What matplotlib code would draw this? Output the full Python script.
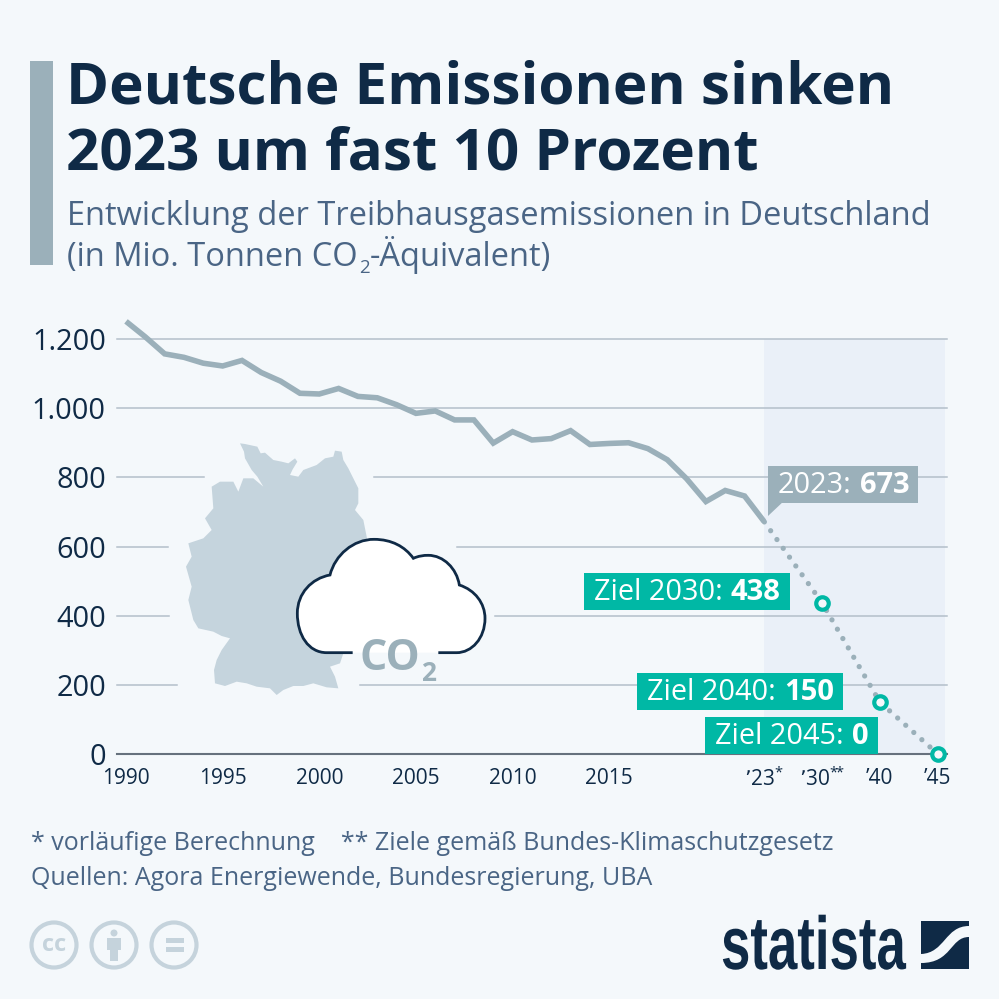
import matplotlib
matplotlib.use("Agg")
import matplotlib.pyplot as plt
from matplotlib.patches import Rectangle, Circle, Polygon, PathPatch
from matplotlib.patheffects import AbstractPathEffect
from matplotlib.path import Path
from matplotlib.transforms import Affine2D, blended_transform_factory

# Emissions in Mio. t CO2 equivalent
YEARS = list(range(1990, 2024))
EMISSIONS = [1251, 1206, 1157, 1147, 1130, 1122, 1138, 1103, 1078, 1043,
             1041, 1057, 1034, 1030, 1010, 985, 992, 966, 966, 899,
             932, 908, 912, 935, 895, 898, 900, 883, 851, 796,
             730, 762, 746, 673]

# the axis is categorical, one slot per year up to 2023, then every third slot
TARGET_YEARS = [2023, 2030, 2040, 2045]
TARGET_VALUES = [673, 438, 150, 0]
TARGET_SLOTS = [33, 36, 39, 42]

XTICK_SLOTS = [0, 5, 10, 15, 20, 25, 33, 36, 39, 42]
XTICK_LABELS = ["1990", "1995", "2000", "2005", "2010", "2015",
                "\u201923$^{*}$", r"\u201930$^{*\!\!*}$".replace(r"\u2019", "\u2019"), "\u201940", "\u201945"]
YTICKS = [0, 200, 400, 600, 800, 1000, 1200]
YTICK_LABELS = ["0", "200", "400", "600", "800", "1.000", "1.200"]

BG = "#f4f8fb"
NAVY = "#0f2a46"
SLATE = "#4a6585"
LINE = "#9bb0ba"
TEAL = "#00b8a5"
SHADE = "#eaf0f8"
GRID = "#b4bfca"
ZERO = "#66717d"
ICON = "#c5d3dc"
MAP = "#c5d4dd"

plt.rcParams["font.family"] = ["Open Sans", "DejaVu Sans"]
plt.rcParams["mathtext.default"] = "regular"

fig = plt.figure(figsize=(9.99, 9.99), dpi=100, facecolor=BG)
# pixel positions of the plot area in the picture
ax = fig.add_axes([117 / 999, (999 - 754) / 999, (947 - 117) / 999, (754 - 339) / 999])
ax.patch.set_alpha(0)
ax.set_xlim((117 - 126) / 19.33, (947 - 126) / 19.33)
ax.set_ylim(0, 1200)
for s in ax.spines.values():
    s.set_visible(False)

# decorations are placed in picture pixels, y going down
pix = Affine2D().scale(1, -1).translate(0, 999)
x_pix = blended_transform_factory(pix, ax.transData)


def add(patch, z=1):
    patch.set_transform(pix)
    patch.set_clip_on(False)
    patch.set_zorder(z)
    ax.add_patch(patch)
    return patch


def label(x, y, s, **kw):
    return ax.text(x, y, s, transform=pix, clip_on=False, **kw)


class TallGlyphs(AbstractPathEffect):
    # no condensed bold font here, so the logo text gets stretched upwards from its baseline
    def __init__(self, base, factor):
        super().__init__()
        self.stretch = Affine2D().translate(0, -base).scale(1, factor).translate(0, base)

    def draw_path(self, renderer, gc, tpath, affine, rgbFace=None):
        renderer.draw_path(gc, tpath, affine + self.stretch, rgbFace)


# header
add(Rectangle((30, 61), 23, 204, fc=LINE, ec="none"))
label(66, 103, "Deutsche Emissionen sinken", fontsize=42, fontweight="bold", color=NAVY, va="baseline")
label(66, 169, "2023 um fast 10 Prozent", fontsize=42, fontweight="bold", color=NAVY, va="baseline")
label(67, 225, "Entwicklung der Treibhausgasemissionen in Deutschland", fontsize=23.5, color=SLATE, va="baseline")
label(67, 266, "(in Mio. Tonnen CO", fontsize=23.5, color=SLATE, va="baseline")
label(359, 273, "2", fontsize=13.5, color=SLATE, va="baseline")
label(370, 266, "-\u00c4quivalent)", fontsize=23.5, color=SLATE, va="baseline")

# shaded part for the outlook, then grid with gaps around the illustration
add(Rectangle((764, 339), 181, 415, fc=SHADE, ec="none"), z=0.5)
grid_spans = {200: [(117, 177), (360, 947)], 400: [(117, 169), (495, 947)],
              600: [(117, 168), (457, 947)], 800: [(117, 204), (374, 947)],
              1000: [(117, 947)], 1200: [(117, 947)]}
for value, spans in grid_spans.items():
    for x0, x1 in spans:
        ax.plot([x0, x1], [value, value], color=GRID, lw=1.1, transform=x_pix, clip_on=False, zorder=1)
ax.plot([117, 947], [0, 0], color=ZERO, lw=1.5, transform=x_pix, clip_on=False, zorder=1)

# germany
outline = [(225, 42), (262, 50), (272, 70), (285, 68), (310, 90), (335, 95), (355, 100), (375, 85), (382, 95),
           (368, 118), (360, 135), (385, 140), (400, 120), (440, 105), (465, 85), (490, 80), (495, 62),
           (515, 65), (520, 90), (535, 115), (550, 145), (565, 175), (565, 220), (555, 240), (580, 270),
           (590, 320), (600, 400), (560, 470), (500, 500), (470, 540), (480, 600), (520, 670), (510, 700),
           (480, 710), (495, 740), (505, 775), (470, 772), (430, 760), (400, 768), (370, 768), (340, 780),
           (320, 795), (300, 775), (260, 770), (230, 760), (200, 755), (165, 768), (135, 760), (132, 720),
           (140, 690), (155, 660), (180, 625), (155, 618), (130, 605), (85, 595), (70, 570), (55, 510),
           (65, 470), (48, 410), (65, 380), (55, 340), (100, 325), (125, 300), (105, 265), (130, 235),
           (125, 170), (150, 155), (190, 155), (205, 185), (220, 145), (250, 145), (280, 170), (262, 140),
           (245, 120), (225, 85), (222, 65), (210, 40)]
add(Polygon([(170 + x / 3, 430 + y / 3) for x, y in outline], closed=True, fc=MAP, ec="none"), z=2)

# cloud
c = lambda x, y: (170 + x / 3, 430 + y / 3)
cloud_pts = [c(548, 668), c(470, 668),
             c(415, 668), c(382, 615), c(382, 550),
             c(382, 490), c(425, 445), c(480, 435),
             c(495, 375), c(550, 328), c(612, 328),
             c(665, 328), c(705, 350), c(730, 385),
             c(745, 378), c(760, 376), c(775, 376),
             c(820, 376), c(860, 415), c(868, 465),
             c(915, 480), c(945, 520), c(945, 565),
             c(945, 625), c(905, 668), c(860, 668),
             c(805, 668)]
cloud_codes = [Path.MOVETO, Path.LINETO] + [Path.CURVE4] * 24 + [Path.LINETO]
add(PathPatch(Path(cloud_pts, cloud_codes), fc="white", ec="none"), z=3)
add(PathPatch(Path(cloud_pts, cloud_codes), fc="none", ec=NAVY, lw=2.0), z=3.1)
label(359, 670, "CO", fontsize=31, fontweight="bold", color=LINE, va="baseline", zorder=4)
label(421, 681, "2", fontsize=19, fontweight="bold", color=LINE, va="baseline", zorder=4)

# series
ax.plot(range(len(YEARS)), EMISSIONS, color=LINE, lw=4, solid_joinstyle="miter",
        solid_capstyle="butt", clip_on=False, zorder=5)
ax.plot(TARGET_SLOTS, TARGET_VALUES, color=LINE, lw=3.8, linestyle=(6, (0.001, 2.05)),
        dash_capstyle="round", clip_on=False, zorder=5)
ax.plot(TARGET_SLOTS[1:], TARGET_VALUES[1:], linestyle="none", marker="o", ms=9, mew=3,
        mec=TEAL, mfc=BG, clip_on=False, zorder=8)

# value boxes
renderer = fig.canvas.get_renderer()


def value_box(x0, y0, x1, y1, head, value, color):
    add(Rectangle((x0, y0), x1 - x0, y1 - y0, fc=color, ec="none"), z=6)
    base = y1 - 10
    t = label(x0 + 10, base, head, fontsize=20.8, color="white", va="baseline", zorder=7)
    w = t.get_window_extent(renderer).width
    label(x0 + 10 + w + 8, base, value, fontsize=21, fontweight="bold", color="white", va="baseline", zorder=7)


add(Polygon([(768, 500), (768, 516), (785, 500)], closed=True, fc=LINE, ec="none"), z=6)
value_box(768, 466, 918, 503, f"{TARGET_YEARS[0]}:", str(TARGET_VALUES[0]), LINE)
value_box(584, 573, 790, 610, f"Ziel {TARGET_YEARS[1]}:", str(TARGET_VALUES[1]), TEAL)
value_box(637, 673, 843, 710, f"Ziel {TARGET_YEARS[2]}:", str(TARGET_VALUES[2]), TEAL)
value_box(705, 717, 878, 754, f"Ziel {TARGET_YEARS[3]}:", str(TARGET_VALUES[3]), TEAL)

# ticks
ax.set_xticks(XTICK_SLOTS, XTICK_LABELS, fontsize=15, color=NAVY)
ax.set_yticks(YTICKS, YTICK_LABELS, fontsize=20.8, color=NAVY)
ax.tick_params(axis="x", length=0, pad=10)
ax.tick_params(axis="y", length=0, pad=8)

# footer
label(31, 850, "* vorl\u00e4ufige Berechnung    ** Ziele gem\u00e4\u00df Bundes-Klimaschutzgesetz",
      fontsize=18, color=SLATE, va="baseline")
label(31, 885, "Quellen: Agora Energiewende, Bundesregierung, UBA", fontsize=18, color=SLATE, va="baseline")

# licence icons
for cx in (54, 114, 174):
    add(Circle((cx, 945), 22.5, fc="none", ec=ICON, lw=3))
label(54, 945, "cc", fontsize=17, fontweight="bold", color=ICON, ha="center", va="center")
add(Circle((114, 933), 3.5, fc=ICON, ec="none"))
add(Polygon([(107, 938), (121, 938), (121, 950), (118, 950), (118, 961), (110, 961), (110, 950), (107, 950)],
            closed=True, fc=ICON, ec="none"))
add(Rectangle((166, 938), 18, 5, fc=ICON, ec="none"))
add(Rectangle((166, 947), 18, 5, fc=ICON, ec="none"))

# statista logo
logo = label(721, 969, "statista", family="Liberation Sans", fontsize=38, fontweight="bold",
             color=NAVY, va="baseline")
logo.set_path_effects([TallGlyphs(999 - 969, 1.42)])
add(Rectangle((921, 921), 48, 48, fc=NAVY, ec="none"))
band = [(969, 926), (945, 926), (945, 953), (921, 954),
        (921, 963), (952, 963), (950, 937), (969, 937), (969, 926)]
band_codes = [Path.MOVETO, Path.CURVE4, Path.CURVE4, Path.CURVE4, Path.LINETO,
              Path.CURVE4, Path.CURVE4, Path.CURVE4, Path.CLOSEPOLY]
add(PathPatch(Path(band, band_codes), fc=BG, ec="none"), z=1.5)

fig.savefig("out.png", dpi=100, facecolor=BG)
